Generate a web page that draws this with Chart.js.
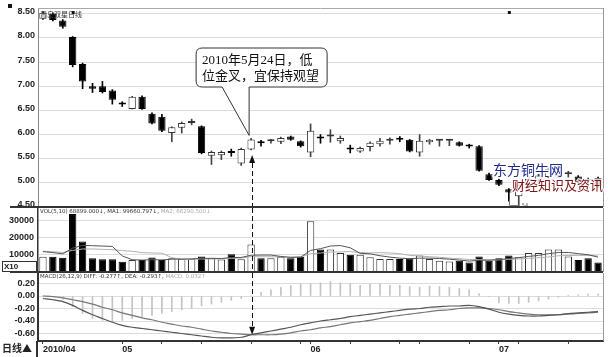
<!DOCTYPE html>
<html><head><meta charset="utf-8">
<script src="https://cdn.jsdelivr.net/npm/chart.js@4/dist/chart.umd.min.js"></script>
<style>
html,body{margin:0;padding:0;background:#fff;}
#wrap{position:relative;width:608px;height:357px;overflow:hidden;background:#fff}
canvas{position:absolute;left:0}
</style></head><body>
<div id="wrap">
<canvas id="cPrice" width="608" height="212" style="top:0px"></canvas>
<canvas id="cVol" width="608" height="68" style="top:206px"></canvas>
<canvas id="cMacd" width="608" height="85" style="top:272px"></canvas>
</div>
<script>
// ---------- data ----------
const xTickLabels = ['2010/04','','','','','','','',
 '05','','','','','','','','','','','','','','','','','','',
 '06','','','','','','','','','','','','','','','','','','',
 '07','','','','','','','','','',''];
const tickMarkIdx = [8,12,16,21,26,27,31,36,38,43,46,48,53];
const open  = [8.40,8.50,8.36,8.02,7.46,7.00,7.00,6.91,6.64,6.53, 6.78,6.43,6.37,6.03,6.14,6.24,6.17,5.56,5.57,5.64, 5.40,5.69,5.84,5.86,5.85,5.96,5.86,5.63,5.94,5.96, 5.86,5.73,5.65,5.74,5.80,5.87,5.92,5.89,5.63,5.84, 5.87,5.87,5.84,5.77,5.76,5.18,5.06,4.87,4.72,4.95, 5.05,5.12,5.14,5.18,5.13,5.06,5.10];
const high  = [8.55,8.52,8.38,8.03,7.48,7.06,7.10,6.93,6.68,6.79, 6.80,6.45,6.42,6.16,6.26,6.32,6.18,5.66,5.66,5.70, 5.72,5.92,5.88,5.90,5.95,5.97,5.87,6.22,6.00,6.10, 5.97,5.78,5.74,5.85,5.92,5.93,5.96,5.90,6.00,5.90, 5.89,5.90,5.85,5.80,5.77,5.20,5.08,4.88,4.98,5.12, 5.18,5.32,5.36,5.24,5.15,5.10,5.12];
const low   = [8.38,8.35,8.20,7.40,6.95,6.87,6.86,6.63,6.58,6.53, 6.52,6.22,6.06,5.85,6.03,6.20,5.60,5.38,5.48,5.55, 5.36,5.68,5.76,5.82,5.81,5.88,5.74,5.54,5.82,5.84, 5.82,5.62,5.63,5.66,5.76,5.80,5.85,5.64,5.55,5.80, 5.76,5.77,5.76,5.72,5.24,5.05,4.94,4.62,4.54,4.93, 5.02,5.10,5.10,5.12,4.99,5.00,4.90];
const close = [8.52,8.37,8.23,7.44,7.10,6.95,6.88,6.72,6.62,6.78, 6.53,6.23,6.08,6.15,6.24,6.26,5.62,5.64,5.64,5.62, 5.70,5.90,5.82,5.88,5.93,5.89,5.76,6.08,5.92,5.98, 5.93,5.69,5.72,5.83,5.87,5.89,5.89,5.65,5.87,5.89, 5.89,5.89,5.77,5.75,5.25,5.06,4.96,4.80,4.95,5.08, 5.15,5.28,5.33,5.20,5.01,5.04,4.93];
const volume = [8800,8800,8200,33500,17600,8000,7300,7400,5900,7000, 7000,8400,7000,7900,7500,7500,9000,8000,7200,10200, 7300,15900,7900,7900,8800,7900,8800,29400,13000,13000, 11000,10000,10000,8500,7500,7500,7500,8000,9500,7500, 6500,6000,6500,5500,9000,6500,8000,9500,8500,11000, 11000,13000,13000,9000,7000,8000,5500];
const volMA5  = [11800,11200,10500,13800,15400,15200,15000,14800,9300,7100, 6900,7100,7000,7400,7500,7600,7900,7900,7800,8400, 8400,9700,9800,9800,9000,8400,8600,12500,13500,15000, 15300,14000,10800,10500,9400,8600,8000,7700,8000,8000, 7800,7400,6900,6300,6800,6800,7100,7800,8300,9000, 9600,10600,11300,11300,10600,10000,8600];
const volMA10 = [12000,11700,11300,12500,13300,13300,13100,12900,12400,12000, 11200,11000,10900,8300,7300,7300,7500,7500,7600,7900, 8100,8900,8800,8800,8700,8700,8800,10500,11000,11500, 11600,11800,11300,11000,11200,11000,10600,9600,9300,8800, 8500,8000,7700,7200,7200,7100,7000,7300,7500,7900, 8200,8700,9400,9500,9600,9600,9300];
const diff = [-0.04,-0.06,-0.09,-0.15,-0.23,-0.30,-0.36,-0.42,-0.47,-0.50, -0.52,-0.54,-0.56,-0.58,-0.60,-0.62,-0.64,-0.66,-0.67,-0.67, -0.66,-0.62,-0.59,-0.56,-0.53,-0.50,-0.46,-0.43,-0.40,-0.38, -0.36,-0.33,-0.31,-0.29,-0.27,-0.25,-0.23,-0.21,-0.20,-0.18, -0.17,-0.16,-0.16,-0.15,-0.17,-0.21,-0.26,-0.29,-0.31,-0.32, -0.32,-0.31,-0.30,-0.28,-0.27,-0.26,-0.25];
const dea  = [0.00,-0.01,-0.03,-0.06,-0.09,-0.13,-0.18,-0.22,-0.27,-0.31, -0.35,-0.38,-0.42,-0.45,-0.48,-0.50,-0.53,-0.56,-0.58,-0.60, -0.61,-0.62,-0.62,-0.62,-0.61,-0.59,-0.56,-0.54,-0.51,-0.49, -0.46,-0.43,-0.41,-0.39,-0.36,-0.33,-0.31,-0.29,-0.27,-0.25, -0.23,-0.22,-0.20,-0.19,-0.19,-0.20,-0.22,-0.25,-0.27,-0.29, -0.30,-0.30,-0.30,-0.29,-0.28,-0.27,-0.26];
const macdHist = [0.00,-0.01,-0.05,-0.17,-0.28,-0.36,-0.39,-0.41,-0.39,-0.36, -0.33,-0.31,-0.28,-0.25,-0.22,-0.20,-0.16,-0.13,-0.10,-0.07, -0.04,0.00,0.06,0.10,0.14,0.17,0.19,0.20,0.21,0.23, 0.21,0.20,0.17,0.19,0.20,0.17,0.17,0.15,0.14,0.16, 0.15,0.14,0.12,0.10,0.04,-0.01,-0.11,-0.12,-0.12,-0.10, -0.08,-0.05,-0.02,0.01,0.02,0.03,0.03];
const priceTicks = [4.5,5.0,5.5,6.0,6.5,7.0,7.5,8.0,8.5];
const volTicks = [10000,20000,30000];
const macdTicks = [-0.6,-0.4,-0.2,0,0.2];
const markIdx = 21; // 2010-05-24
const titleText = '青岛双星日线';
const calloutLines = ['2010年5月24日，低','位金叉，宜保持观望'];
const volTitle = ['VOL(5,10) 68899.000↓, MA1: 99660.797↓, ', 'MA2: 66290.500↓'];
const macdTitle = ['MACD(26,12,9) DIFF: -0.277↑, DEA: -0.293↑, ', 'MACD: 0.032↑'];

// ---------- helpers ----------
const isUp = i => close[i] >= open[i];
const axisFont = {family:'"Liberation Sans", Arial, sans-serif', size:9, weight:'bold'};
const fitY = s => { s.width = 38; s.paddingTop = 0; s.paddingBottom = 0; };
const baseOpts = (padTop, padBottom) => ({
  responsive:false, animation:false, devicePixelRatio:1,
  layout:{padding:{top:padTop,right:5,bottom:padBottom,left:0}},
  plugins:{legend:{display:false}, tooltip:{enabled:false}}
});

function dashedV(ctx, x, y1, y2){
  ctx.save();
  ctx.strokeStyle='#111'; ctx.lineWidth=1; ctx.setLineDash([5,3]);
  ctx.beginPath(); ctx.moveTo(Math.round(x)+0.5, y1); ctx.lineTo(Math.round(x)+0.5, y2); ctx.stroke();
  ctx.restore();
}
function frame(ctx, a){
  ctx.save(); ctx.strokeStyle='#999'; ctx.lineWidth=1;
  ctx.beginPath(); ctx.moveTo(Math.round(a.right)+0.5, a.top); ctx.lineTo(Math.round(a.right)+0.5, a.bottom); ctx.stroke();
  ctx.restore();
}
function twoTone(ctx, parts, x, y){
  ctx.font='5.5px "DejaVu Sans"'; ctx.textBaseline='middle'; ctx.textAlign='left';
  ctx.fillStyle='#333'; ctx.fillText(parts[0], x, y);
  const w = ctx.measureText(parts[0]).width;
  ctx.fillStyle='#aaa'; ctx.fillText(parts[1], x + w, y);
}

// ---------- price chart ----------
const priceDeco = {
  id:'priceDeco',
  afterDraw(chart){
    const {ctx, chartArea:a, scales:{x,y}} = chart;
    ctx.save();
    ctx.strokeStyle='#aaa'; ctx.lineWidth=1;
    ctx.beginPath(); ctx.moveTo(a.left, Math.round(a.top)+0.5); ctx.lineTo(a.right, Math.round(a.top)+0.5); ctx.stroke();
    frame(ctx, a);
    ctx.font='7px "Noto Sans CJK SC"'; ctx.fillStyle='#333'; ctx.textBaseline='middle'; ctx.textAlign='left';
    ctx.fillText(titleText, a.left+2, a.top+6);
    ctx.fillStyle='#111';
    ctx.fillRect(8, 4, 4, 4);
    ctx.fillRect(x.getPixelForValue(3)-1, a.top+3, 3, 3);
    ctx.fillRect(x.getPixelForValue(47)-1, a.top+3, 3, 3);
    const lx = x.getPixelForValue(47), ly = y.getPixelForValue(low[48]);
    ctx.strokeStyle='#777'; ctx.lineWidth=1;
    ctx.beginPath(); ctx.moveTo(Math.round(lx)+0.5, ly-6); ctx.lineTo(Math.round(lx)+0.5, ly+0.5); ctx.lineTo(lx+11, ly+0.5); ctx.stroke();
    ctx.font='5px "DejaVu Sans"'; ctx.fillStyle='#555';
    ctx.fillText('54', lx+13, ly+1);
    const cx = x.getPixelForValue(markIdx) + 0.5;
    const tip = y.getPixelForValue(low[markIdx]) + 5;
    ctx.fillStyle='#111';
    ctx.beginPath(); ctx.moveTo(cx+0.5, tip); ctx.lineTo(cx-2.5, tip+8); ctx.lineTo(cx+3.5, tip+8); ctx.closePath(); ctx.fill();
    dashedV(ctx, cx, tip+8, a.bottom);
    const tx = x.getPixelForValue(markIdx) - 2, ty = y.getPixelForValue(high[markIdx]) - 3;
    const bx = tx - 53, by = 48, bw = 131, bh = 39, r = 6;
    const pl = tx - 27;
    ctx.beginPath();
    ctx.moveTo(bx+r, by);
    ctx.lineTo(bx+bw-r, by); ctx.quadraticCurveTo(bx+bw, by, bx+bw, by+r);
    ctx.lineTo(bx+bw, by+bh-r); ctx.quadraticCurveTo(bx+bw, by+bh, bx+bw-r, by+bh);
    ctx.lineTo(tx, by+bh); ctx.lineTo(tx, ty); ctx.lineTo(pl, by+bh);
    ctx.lineTo(bx+r, by+bh); ctx.quadraticCurveTo(bx, by+bh, bx, by+bh-r);
    ctx.lineTo(bx, by+r); ctx.quadraticCurveTo(bx, by, bx+r, by);
    ctx.closePath();
    ctx.fillStyle='#fff'; ctx.fill();
    ctx.strokeStyle='#333'; ctx.lineWidth=1; ctx.stroke();
    ctx.fillStyle='#111'; ctx.font='13px "Liberation Serif", "Noto Sans CJK SC"'; ctx.textBaseline='middle';
    ctx.fillText(calloutLines[0], bx+6, by+13);
    ctx.fillText(calloutLines[1], bx+6, by+29);
    ctx.textBaseline='middle';
    ctx.font='14px "Noto Sans CJK SC"';
    ctx.lineWidth=3; ctx.strokeStyle='rgba(255,255,255,0.85)';
    ctx.strokeText('东方铜牛网', 493, 170);
    ctx.fillStyle='#1f2a8f'; ctx.fillText('东方铜牛网', 493, 170);
    ctx.font='13px "Noto Sans CJK SC"';
    ctx.strokeText('财经知识及资讯', 512, 185);
    ctx.fillStyle='#7d1414'; ctx.fillText('财经知识及资讯', 512, 185);
    ctx.strokeStyle='#333'; ctx.lineWidth=2;
    ctx.beginPath(); ctx.moveTo(10, a.bottom); ctx.lineTo(a.right, a.bottom); ctx.stroke();
    ctx.restore();
  }
};

new Chart(document.getElementById('cPrice'), {
  type:'bar',
  data:{
    labels: xTickLabels,
    datasets:[
      {label:'body', data: open.map((o,i)=>[o, close[i]]),
       backgroundColor: open.map((o,i)=> isUp(i) ? '#ffffff' : '#000000'),
       borderColor: open.map((o,i)=> isUp(i) ? '#333333' : '#000000'),
       borderWidth:1, borderSkipped:false, minBarLength:2,
       barPercentage:0.74, categoryPercentage:1, grouped:false, order:0},
      {label:'wick', data: low.map((l,i)=>[l, high[i]]),
       backgroundColor: open.map((o,i)=> isUp(i) ? '#444444' : '#000000'),
       barThickness:1, grouped:false, order:1}
    ]
  },
  options: Object.assign(baseOpts(8,5), {
    scales:{
      x:{type:'category', display:false, offset:true},
      y:{min:4.5, max:8.62,
         afterBuildTicks: s => { s.ticks = priceTicks.map(v=>({value:v})); },
         afterFit: fitY,
         ticks:{callback: v => Number(v).toFixed(2), font:axisFont, color:'#222', padding:3, labelOffset:-2},
         grid:{color:'#dcdcdc', drawTicks:false},
         border:{color:'#888', width:1}}
    }
  }),
  plugins:[priceDeco]
});

// ---------- volume chart ----------
const volDeco = {
  id:'volDeco',
  afterDraw(chart){
    const {ctx, chartArea:a, scales:{x}} = chart;
    ctx.save();
    frame(ctx, a);
    twoTone(ctx, volTitle, a.left+2, a.top+4);
    dashedV(ctx, x.getPixelForValue(markIdx)+0.5, a.top, a.bottom);
    ctx.strokeStyle='#333'; ctx.lineWidth=1; ctx.fillStyle='#fff';
    ctx.fillRect(2.5, a.bottom-10.5, 34, 10); ctx.strokeRect(2.5, a.bottom-10.5, 34, 10);
    ctx.fillStyle='#222'; ctx.font='bold 8px "Liberation Sans"'; ctx.textBaseline='middle'; ctx.textAlign='left';
    ctx.fillText('X10', 4, a.bottom-5);
    ctx.strokeStyle='#333'; ctx.lineWidth=2;
    ctx.beginPath(); ctx.moveTo(10, a.bottom); ctx.lineTo(a.right, a.bottom); ctx.stroke();
    ctx.restore();
  }
};
new Chart(document.getElementById('cVol'), {
  type:'bar',
  data:{
    labels: xTickLabels,
    datasets:[
      {type:'line', label:'MA5', data: volMA5, borderColor:'#555', borderWidth:1, pointRadius:0, tension:0, order:0},
      {type:'line', label:'MA10', data: volMA10, borderColor:'#b0b0b0', borderWidth:1, pointRadius:0, tension:0, order:1},
      {type:'bar', label:'VOL', data: volume,
       backgroundColor: volume.map((v,i)=> isUp(i) ? '#ffffff' : '#000000'),
       borderColor: volume.map((v,i)=> isUp(i) ? '#333333' : '#000000'),
       borderWidth:1, borderSkipped:false, barPercentage:0.74, categoryPercentage:1, order:2}
    ]
  },
  options: Object.assign(baseOpts(2,2), {
    scales:{
      x:{type:'category', display:false, offset:true},
      y:{min:0, max:37000,
         afterBuildTicks: s => { s.ticks = volTicks.map(v=>({value:v})); },
         afterFit: fitY,
         ticks:{callback: v => String(v), font:axisFont, color:'#222', padding:4},
         grid:{color:'#dcdcdc', drawTicks:false},
         border:{color:'#333', width:1.5}}
    }
  }),
  plugins:[volDeco]
});

// ---------- MACD chart ----------
const macdDeco = {
  id:'macdDeco',
  afterDraw(chart){
    const {ctx, chartArea:a, scales:{x,y}} = chart;
    ctx.save();
    frame(ctx, a);
    twoTone(ctx, macdTitle, a.left+2, a.top+4);
    const cx = x.getPixelForValue(markIdx)+0.5;
    const tip = y.getPixelForValue(dea[markIdx]);
    dashedV(ctx, cx, a.top, tip-8);
    ctx.fillStyle='#111';
    ctx.beginPath(); ctx.moveTo(cx+0.5, tip); ctx.lineTo(cx-2.5, tip-8); ctx.lineTo(cx+3.5, tip-8); ctx.closePath(); ctx.fill();
    ctx.strokeStyle='#333'; ctx.lineWidth=2;
    ctx.beginPath(); ctx.moveTo(a.left-1, a.bottom); ctx.lineTo(a.left-1, chart.height); ctx.stroke();
    ctx.fillStyle='#222'; ctx.font='bold 10px "Noto Sans CJK SC"'; ctx.textBaseline='middle'; ctx.textAlign='left';
    ctx.fillText('日线▲', 2, a.bottom+7);
    ctx.restore();
  }
};
new Chart(document.getElementById('cMacd'), {
  type:'bar',
  data:{
    labels: xTickLabels,
    datasets:[
      {type:'line', label:'DIFF', data: diff, borderColor:'#555', borderWidth:1.2, pointRadius:0, tension:0.3, order:0},
      {type:'line', label:'DEA', data: dea, borderColor:'#777', borderWidth:1.2, pointRadius:0, tension:0.3, order:1},
      {type:'bar', label:'MACD', data: macdHist, backgroundColor:'#c4c4c4', barThickness:1, order:2}
    ]
  },
  options: Object.assign(baseOpts(1,0), {
    scales:{
      x:{type:'category', position:'bottom', offset:true,
         afterFit: s => { s.height = 16; s.paddingLeft = 0; s.paddingRight = 0; },
         ticks:{autoSkip:false, maxRotation:0, minRotation:0, align:'start', font:axisFont, color:'#222', padding:0,
                callback:(v,i)=> xTickLabels[i]},
         grid:{offset:false, drawOnChartArea:false, drawTicks:true, tickLength:3,
               color: c => (tickMarkIdx.includes(c.index) || xTickLabels[c.index]) ? '#444' : 'rgba(0,0,0,0)'},
         border:{color:'#333', width:2}},
      y:{min:-0.72, max:0.368,
         afterBuildTicks: s => { s.ticks = macdTicks.map(v=>({value:v})); },
         afterFit: fitY,
         ticks:{callback: v => Number(v).toFixed(2), font:axisFont, color:'#222', padding:3},
         grid:{color:'#dcdcdc', drawTicks:false},
         border:{color:'#333', width:2}}
    }
  }),
  plugins:[macdDeco]
});
</script>
</body></html>
